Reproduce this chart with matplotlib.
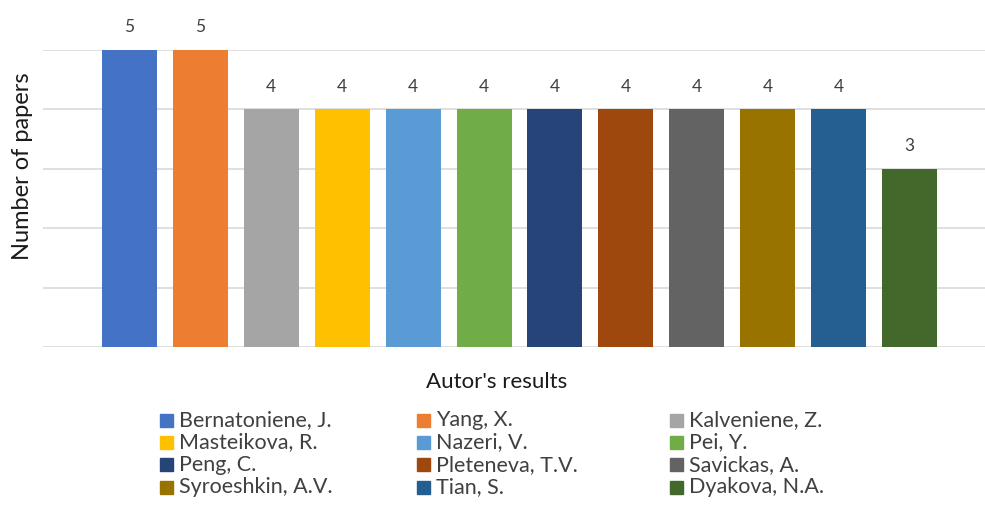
import matplotlib.pyplot as plt
from matplotlib.patches import Rectangle

plt.rcParams['font.family'] = ['Lato', 'DejaVu Sans']

authors = ['Bernatoniene, J.', 'Yang, X.', 'Kalveniene, Z.',
           'Masteikova, R.', 'Nazeri, V.', 'Pei, Y.',
           'Peng, C.', 'Pleteneva, T.V.', 'Savickas, A.',
           'Syroeshkin, A.V.', 'Tian, S.', 'Dyakova, N.A.']
papers = [5, 5, 4, 4, 4, 4, 4, 4, 4, 4, 4, 3]
colors = ['#4472C4', '#ED7D31', '#A5A5A5', '#FFC000', '#5B9BD5', '#70AD47',
          '#264478', '#9E480E', '#636363', '#997300', '#255E91', '#43682B']

W, H = 985, 519
fig = plt.figure(figsize=(W / 100, H / 100), dpi=100)
ax = fig.add_axes([43 / W, 1 - 347 / H, 1 - 43 / W, 297 / H])

x = list(range(len(papers)))
ax.bar(x, papers, width=0.776, color=colors, zorder=3)
for xi, v in zip(x, papers):
    ax.text(xi, v + 0.38, str(v), ha='center', va='center', fontsize=12.5,
            color='#404040', clip_on=False)

ax.set_xlim(-1.22, 12.065)
ax.set_ylim(0, 5)
ax.set_yticks(range(6))
ax.yaxis.grid(True, color='#D9D9D9', linewidth=1.2, zorder=0)
ax.tick_params(left=False, bottom=False, labelleft=False, labelbottom=False)
for s in ax.spines.values():
    s.set_visible(False)

fig.text(23 / W, 1 - 166 / H, 'Number of papers', rotation=90, ha='center',
         va='center', fontsize=17, color='#1a1a1a')
fig.text(497 / W, 1 - 382 / H, "Autor's results", ha='center', va='center',
         fontsize=16, color='#1a1a1a')

# legend laid out by hand, 3 columns read row by row
col_x = [160, 417, 670]
row_y0, row_dy = 420, 22.4
for i, (name, c) in enumerate(zip(authors, colors)):
    r, k = divmod(i, 3)
    px, py = col_x[k], row_y0 + r * row_dy
    fig.patches.append(Rectangle((px / W, 1 - (py + 6.5) / H), 13 / W, 13 / H,
                                 transform=fig.transFigure, color=c))
    fig.text((px + 19) / W, 1 - py / H, name, ha='left', va='center',
             fontsize=15.5, color='#404040')

fig.savefig('out.png', dpi=100)
